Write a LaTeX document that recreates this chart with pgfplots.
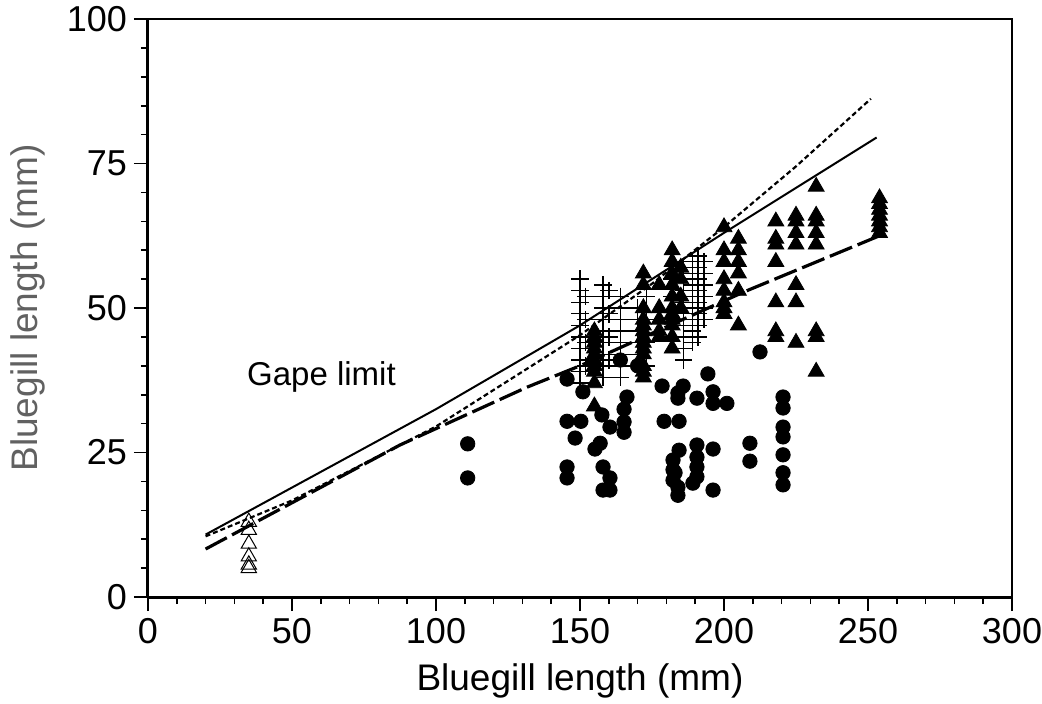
\documentclass[border=0pt]{standalone}
\usepackage{pgfplots}
\pgfplotsset{compat=1.18}
\usepackage{fontspec}
\setmainfont{Liberation Sans}

% filled circles
\pgfplotstableread{
x y
111 26.5
111 20.6
145.5 37.7
145.5 30.4
145.5 22.5
145.5 20.6
148.3 27.5
151 35.5
150.3 30.4
157.6 31.5
160.4 29.4
157 26.6
155.2 25.6
158 22.5
160.4 20.6
158 18.5
160.4 18.5
166.3 34.6
165.3 32.5
165.3 30.3
165.3 28.5
164 41
170 40
178.5 36.5
185.8 36.5
184 35.3
184 34.4
190.6 34.4
194.4 38.6
196.2 35.5
196.2 33.5
201 33.5
179.2 30.4
184.4 30.4
184.4 25.4
190.6 26.3
196.2 25.6
182.3 23.7
182.3 22
182.3 20.2
184 19
184 17.6
190.6 24.2
190.6 22.5
190.6 20.8
189.2 19.7
196.2 18.5
183 21.5
212.5 42.4
209 26.6
209 23.5
220.5 34.6
220.5 32.7
220.5 29.4
220.5 27.7
220.5 24.6
220.5 21.5
220.5 19.4
}\circles

% filled triangles
\pgfplotstableread{
x y
155 46
155 45
155 44
155 43
155 42
155 41
155 40
155 39
155 37
155 33
172 56
172 54
172 50
172 48
172 47
172 46
172 45
172 44
172 43
172 42
172 40
172 39
172 38
177.5 54
177.5 50
177.5 48
177.5 46
177.5 45
182 60
182 58
182 56
182 54
182 52
182 50
182 49
182 48
182 47
182 45
182 43
185 57
185 55
185 52
185 50
200 64
200 60
200 58
200 55
200 53
200 51
200 50
200 49
205 62
205 60
205 58
205 56
205 53
205 47
218 65
218 62
218 61
218 58
218 51
218 46
218 45
225 66
225 65
225 63
225 61
225 54
225 51
225 44
232 71
232 66
232 65
232 63
232 61
232 46
232 45
232 39
254 69
254 68
254 67
254 66
254 65
254 64
254 63
}\tris

% plus signs
\pgfplotstableread{
x y
150 55
150 53
150 51
150 49
150 47
150 45
150 43
150 41
150 39
150 37
152 52
152 48
152 44
152 40
158 54
158 52
158 50
158 48
158 46
158 44
158 42
158 40
158 38
160 53
160 49
160 45
160 41
164 52
164 50
164 48
164 46
164 44
164 42
164 40
164 38
170 50
170 48
170 46
170 44
170 42
170 40
173 52
173 48
173 44
173 40
182 55
182 52
182 48
182 45
186 57
186 55
186 53
186 51
186 49
186 47
186 45
186 43
186 41
189 58
189 56
189 54
189 52
189 50
189 48
189 46
189 44
191 59
191 57
191 55
191 53
191 51
191 49
191 47
191 45
193 58
193 56
193 54
193 52
193 50
193 48
}\pluses

% open triangles
\pgfplotstableread{
x y
35 13
35 11.6
35 9.2
35 7
35 5.6
35 5
}\opentris

\begin{document}
\begin{tikzpicture}
\begin{axis}[
    name=ax,
    scale only axis,
    width=432pt, height=289pt,
    xmin=0, xmax=300, ymin=0, ymax=100,
    xtick={0,50,...,300}, ytick={0,25,...,100},
    minor x tick num=4, minor y tick num=4,
    tick align=outside,
    tick pos=left,
    major tick length=7pt, minor tick length=3.5pt,
    axis line style={line width=1.5pt},
    every tick/.style={black, line width=0.8pt},
    axis x line*=bottom, axis y line*=left,
    ticklabel style={font=\fontsize{18}{21}\selectfont},
    /pgf/number format/assume math mode=true,
    xlabel={Bluegill length (mm)},
    ylabel={Bluegill length (mm)},
    xlabel style={font=\fontsize{18.5}{22}\selectfont, yshift=-3pt},
    ylabel style={font=\fontsize{18.5}{22}\selectfont, black!62, yshift=4pt},
    clip=false,
]
% frame on the other two sides
\draw[line width=1pt] (rel axis cs:0,1) -- (rel axis cs:1,1) -- (rel axis cs:1,0);

\addplot[only marks, mark=*, mark size=3.6pt, black] table {\circles};
\addplot[only marks, mark=triangle*, mark size=4.6pt, black] table {\tris};
\addplot[only marks, mark=+, mark size=4.4pt, black, line width=0.7pt] table {\pluses};
\addplot[only marks, mark=triangle, mark size=4.4pt, black, mark options={fill=white, line width=0.5pt}] table {\opentris};

% gape limit curves
\addplot[black, line width=1pt] coordinates {
    (20,10.8) (100,32.5) (150,47) (200,63) (253,79.5)
};
\addplot[black, line width=1.1pt, dash pattern=on 2.5pt off 1.5pt] coordinates {
    (20,10.5) (50,16.7) (100,29.5) (150,45.3) (175,54.2) (200,64) (225,74.5) (251,86.2)
};
\addplot[black, line width=1.6pt, dash pattern=on 12pt off 3pt] coordinates {
    (20,8.3) (87.5,26.3) (131.6,36.3) (150,40) (207,52.8) (254,62.5)
};

\node[anchor=west, font=\fontsize{16.5}{20}\selectfont] at (axis cs:32,38) {Gape limit};
\end{axis}
\pgfresetboundingbox
\path[use as bounding box] ([xshift=-74pt,yshift=-53pt]ax.south west) rectangle ([xshift=15pt,yshift=9.5pt]ax.north east);
\end{tikzpicture}
\end{document}
